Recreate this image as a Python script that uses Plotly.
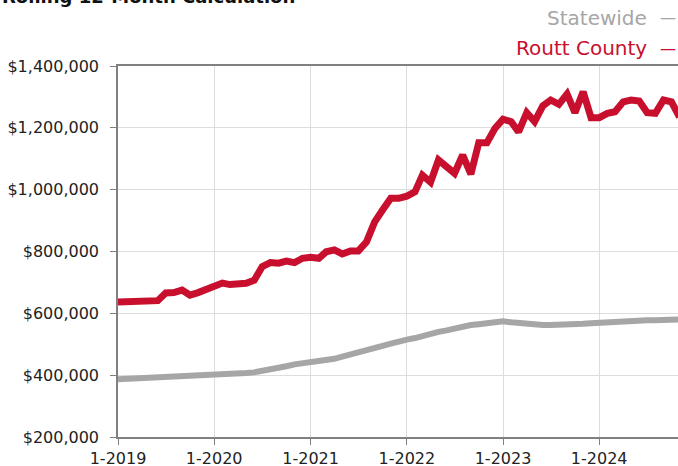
import plotly.graph_objects as go
import pandas as pd

months = pd.date_range("2019-01-01", "2024-11-01", freq="MS").strftime("%Y-%m-%d").tolist()

routt = [
    637, 637, 638, 636, 640, 641, 666, 667, 675, 659, 667, 678,
    692, 698, 693, 695, 697, 707, 751, 764, 762, 769, 764, 778,
    781, 778, 799, 805, 792, 802, 802, 831, 896, 934, 972, 972,
    979, 993, 1047, 1024, 1096, 1074, 1053, 1112, 1050, 1152, 1152, 1198,
    1228, 1220, 1187, 1249, 1220, 1271, 1290, 1276, 1309, 1249, 1317, 1233,
    1233, 1247, 1252, 1284, 1290, 1287, 1249, 1247, 1290, 1284, 1235,
]
statewide = [
    387, 388, 389, 391, 392, 393, 394, 396, 397, 398, 400, 401,
    402, 403, 403, 406, 407, 409, 413, 418, 424, 429, 435, 438,
    441, 444, 448, 453, 460, 468, 475, 482, 489, 495, 502, 510,
    515, 520, 527, 535, 540, 545, 552, 557, 562, 565, 568, 571,
    574, 571, 568, 564, 562, 562, 562, 562, 563, 563, 566, 568,
    570, 572, 574, 576, 578, 578, 578, 578, 579, 579, 580,
]
routt = [v * 1000 for v in routt]
statewide = [v * 1000 for v in statewide]

series_names = ["Statewide", "Routt County"]
series_colors = ["#A6A6A6", "#C8102E"]
title_text = "Rolling 12-Month Calculation"

FONT = "DejaVu Sans"

fig = go.Figure()
fig.add_trace(go.Scatter(x=months, y=statewide, mode="lines", name=series_names[0],
                         line=dict(color=series_colors[0], width=6), showlegend=False))
fig.add_trace(go.Scatter(x=months, y=routt, mode="lines", name=series_names[1],
                         line=dict(color=series_colors[1], width=7), showlegend=False))

L, T, B = 118, 66, 29
W, H = 678, 466
pw = W - L
ph = H - T - B


def px(xp):
    return (xp - L) / pw


def py(yp):
    return (H - B - yp) / ph


fig.update_layout(
    width=W, height=H,
    margin=dict(l=L, r=0, t=T, b=B, pad=0, autoexpand=False),
    showlegend=False,
    paper_bgcolor="white", plot_bgcolor="white",
    font=dict(family=FONT, size=16, color="#222222"),
    xaxis=dict(
        type="date", automargin=False,
        range=["2019-01-01", "2024-10-26"],
        tick0="2019-01-01", dtick="M12", tickformat="%-m-%Y",
        showgrid=True, gridcolor="#DDDDDD", gridwidth=1,
        showline=True, linecolor="#808080", linewidth=1.5, mirror=True,
        ticks="outside", ticklen=6, tickcolor="#808080", tickwidth=1,
        tickfont=dict(family=FONT, size=16, color="#222222"),
        zeroline=False,
    ),
    yaxis=dict(
        automargin=False,
        range=[200000, 1400000], dtick=200000, tick0=200000,
        tickprefix="$", tickformat=",.0f",
        showgrid=True, gridcolor="#DDDDDD", gridwidth=1,
        showline=True, linecolor="#808080", linewidth=1.5,
        ticks="outside", ticklen=6, tickcolor="#808080", tickwidth=1,
        tickfont=dict(family=FONT, size=16, color="#222222"),
        ticklabelstandoff=8,
        zeroline=False,
    ),
)

annotations = [
    dict(text=title_text, xref="paper", yref="paper", x=px(0), y=py(-4),
         xanchor="left", yanchor="middle", showarrow=False,
         font=dict(family=FONT, size=18, color="#111111", weight="bold")),
]
for name, color, yc in zip(series_names, series_colors, [18, 48]):
    annotations.append(dict(text=name, xref="paper", yref="paper", x=px(649), y=py(yc),
                            xanchor="right", yanchor="middle", showarrow=False,
                            font=dict(family=FONT, size=20, color=color)))
    annotations.append(dict(text="—", xref="paper", yref="paper", x=px(668), y=py(yc),
                            xanchor="center", yanchor="middle", showarrow=False,
                            font=dict(family=FONT, size=16, color=color)))
fig.update_layout(annotations=annotations)

fig.write_html("out.html", config={"displayModeBar": False},
               post_script="document.body.style.margin='0';document.body.style.overflow='hidden';")
